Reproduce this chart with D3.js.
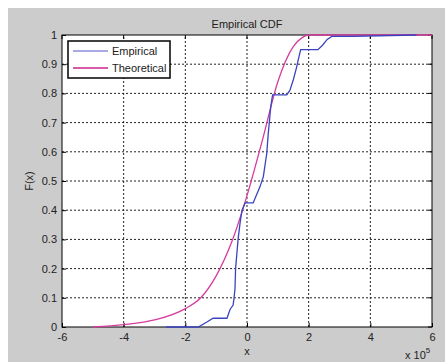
<!DOCTYPE html>
<html>
<head>
<meta charset="utf-8">
<script src="https://cdn.jsdelivr.net/npm/d3@7"></script>
<style>
  body { margin: 0; background: #fff; }
  text { font-family: "Liberation Sans", Arial, sans-serif; }
</style>
</head>
<body>
<div id="chart"></div>
<script>
// x values are in units of 1e5
const xTicks = [-6, -4, -2, 0, 2, 4, 6];
const yTicks = [0, 0.1, 0.2, 0.3, 0.4, 0.5, 0.6, 0.7, 0.8, 0.9, 1];

const theoreticalX = [-5.0, -4.0, -3.0, -2.0, -1.5, -1.0, -0.5, 0.0, 0.5, 1.0, 1.5, 1.8, 2.0, 6.0];
const theoreticalF = [0.0, 0.008, 0.024, 0.063, 0.1, 0.175, 0.29, 0.45, 0.64, 0.84, 0.96, 0.992, 1.0, 1.0];

const empiricalX = [-2.63, -1.58, -1.3, -1.1, -0.65, -0.55, -0.45, -0.42, -0.39, -0.37, -0.33, -0.29, -0.22, -0.16, -0.06, 0.2, 0.3, 0.42, 0.53, 0.64, 0.69, 0.77, 0.83, 1.29, 1.39, 1.5, 1.61, 1.66, 1.74, 2.3, 2.45, 2.6, 2.75, 3.45, 5.5];
const empiricalF = [0.0, 0.0, 0.017, 0.03, 0.03, 0.06, 0.075, 0.1, 0.13, 0.2, 0.25, 0.3, 0.36, 0.4, 0.425, 0.425, 0.45, 0.48, 0.515, 0.594, 0.663, 0.754, 0.795, 0.795, 0.81, 0.846, 0.89, 0.914, 0.95, 0.95, 0.965, 0.985, 0.995, 0.995, 1.0];

const width = 445, height = 362;
const margin = { top: 35, right: 13, bottom: 35, left: 62 };

const svg = d3.select("#chart").append("svg")
  .attr("width", width).attr("height", height);

// figure background
svg.append("rect")
  .attr("x", 8).attr("y", 8)
  .attr("width", width - 8).attr("height", height - 8)
  .attr("fill", "#cccccc");

const x = d3.scaleLinear().domain([-6, 6]).range([margin.left, width - margin.right]);
const y = d3.scaleLinear().domain([0, 1]).range([height - margin.bottom, margin.top]);

svg.append("rect")
  .attr("x", x(-6)).attr("y", y(1))
  .attr("width", x(6) - x(-6)).attr("height", y(0) - y(1))
  .attr("fill", "#fff");

// grid
svg.append("g")
  .selectAll("line")
  .data(xTicks.slice(1, -1))
  .join("line")
  .attr("x1", d => x(d)).attr("x2", d => x(d))
  .attr("y1", y(0)).attr("y2", y(1))
  .attr("stroke", "#222").attr("stroke-dasharray", "2,2");

svg.append("g")
  .selectAll("line")
  .data(yTicks.slice(1, -1))
  .join("line")
  .attr("x1", x(-6)).attr("x2", x(6))
  .attr("y1", d => y(d)).attr("y2", d => y(d))
  .attr("stroke", "#222").attr("stroke-dasharray", "2,2");

// axes
const xAxis = d3.axisBottom(x).tickValues(xTicks).tickSize(-4).tickPadding(6)
  .tickFormat(d => String(d));
const yAxis = d3.axisLeft(y).tickValues(yTicks).tickSize(-4).tickPadding(5)
  .tickFormat(d => String(d));

const gx = svg.append("g")
  .attr("transform", `translate(0,${y(0)})`)
  .call(xAxis);
const gy = svg.append("g")
  .attr("transform", `translate(${x(-6)},0)`)
  .call(yAxis);

[gx, gy].forEach(g => {
  g.select(".domain").remove();
  g.selectAll("line").attr("stroke", "#000");
  g.selectAll("text").attr("font-size", 11).attr("fill", "#222");
});

// top/right ticks
svg.append("g").selectAll("line").data(xTicks).join("line")
  .attr("x1", d => x(d)).attr("x2", d => x(d))
  .attr("y1", y(1)).attr("y2", y(1) + 4).attr("stroke", "#000");
svg.append("g").selectAll("line").data(yTicks).join("line")
  .attr("x1", x(6)).attr("x2", x(6) - 4)
  .attr("y1", d => y(d)).attr("y2", d => y(d)).attr("stroke", "#000");

// box
svg.append("rect")
  .attr("x", x(-6)).attr("y", y(1))
  .attr("width", x(6) - x(-6)).attr("height", y(0) - y(1))
  .attr("fill", "none").attr("stroke", "#000");

// curves
const theoLine = d3.line().x(d => x(d[0])).y(d => y(d[1])).curve(d3.curveMonotoneX);
svg.append("path")
  .datum(theoreticalX.map((v, i) => [v, theoreticalF[i]]))
  .attr("d", theoLine)
  .attr("fill", "none").attr("stroke", "#d63c9e").attr("stroke-width", 1.3);

const empLine = d3.line().x(d => x(d[0])).y(d => y(d[1]));
svg.append("path")
  .datum(empiricalX.map((v, i) => [v, empiricalF[i]]))
  .attr("d", empLine)
  .attr("fill", "none").attr("stroke", "#3b44c0").attr("stroke-width", 1.3);

// legend
const leg = svg.append("g").attr("transform", "translate(68,41)");
leg.append("rect")
  .attr("width", 102).attr("height", 37)
  .attr("fill", "#fff").attr("stroke", "#000").attr("stroke-width", 1.5);
const legItems = [
  { name: "Empirical", color: "#a9a9e6" },
  { name: "Theoretical", color: "#d85aaa" }
];
legItems.forEach((d, i) => {
  const yy = 10 + i * 17;
  leg.append("line")
    .attr("x1", 5).attr("x2", 40).attr("y1", yy).attr("y2", yy)
    .attr("stroke", d.color).attr("stroke-width", 2);
  leg.append("text")
    .attr("x", 44).attr("y", yy + 4)
    .attr("font-size", 11).attr("fill", "#222")
    .text(d.name);
});

// titles
svg.append("text")
  .attr("x", x(0)).attr("y", 28)
  .attr("text-anchor", "middle").attr("font-size", 11).attr("fill", "#222")
  .text("Empirical CDF");
svg.append("text")
  .attr("x", x(0)).attr("y", 355)
  .attr("text-anchor", "middle").attr("font-size", 11).attr("fill", "#222")
  .text("x");
svg.append("text")
  .attr("transform", `translate(33,${y(0.5)}) rotate(-90)`)
  .attr("text-anchor", "middle").attr("font-size", 11).attr("fill", "#222")
  .text("F(x)");

const expo = svg.append("text")
  .attr("x", 405).attr("y", 359)
  .attr("font-size", 11).attr("fill", "#222");
expo.append("tspan").text("x 10");
expo.append("tspan").attr("dy", -6).attr("font-size", 8).text("5");
</script>
</body>
</html>
